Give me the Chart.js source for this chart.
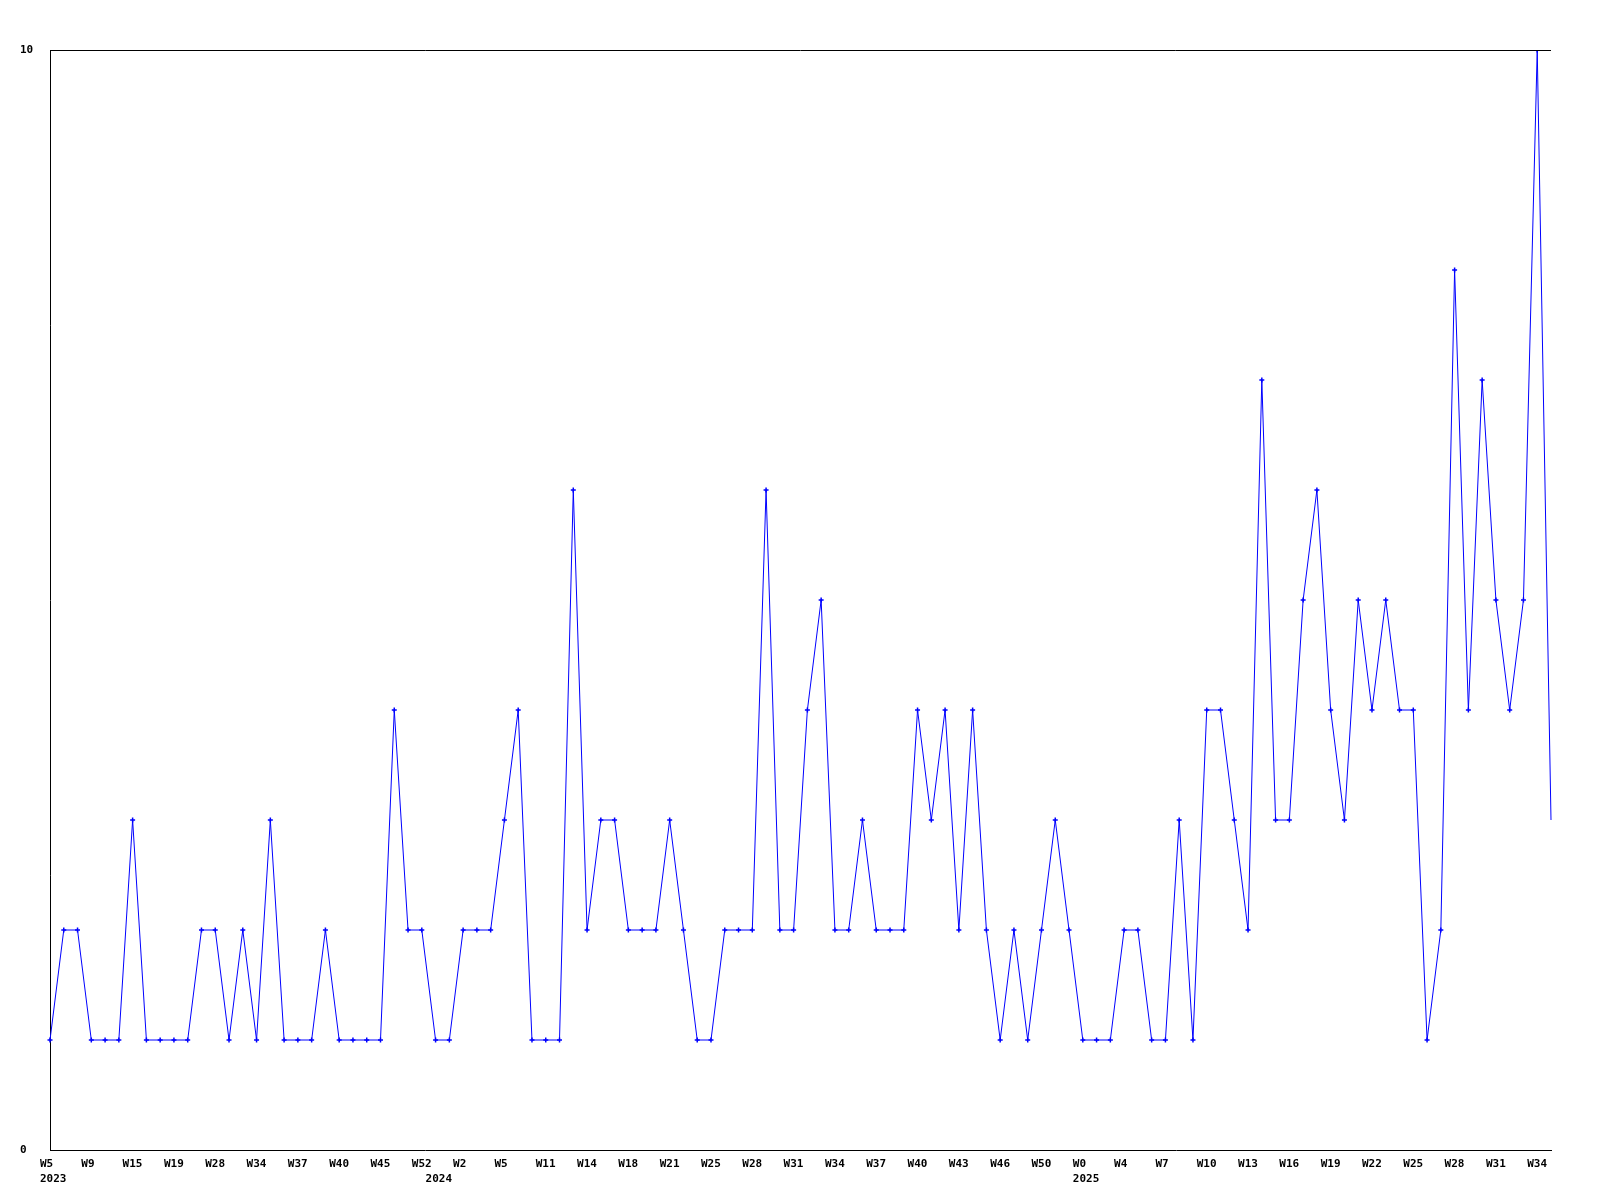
<!DOCTYPE html>
<html>
<head>
<meta charset="utf-8">
<script src="https://cdn.jsdelivr.net/npm/chart.js@4/dist/chart.umd.min.js"></script>
<style>
  html, body { margin: 0; background: #fff; }
  #wrap { width: 1600px; height: 1200px; }
</style>
</head>
<body>
<div id="wrap"><canvas id="week-chart" width="1600" height="1200"></canvas></div>
<script>
// weekly counts, one per point (110 points)
const counts = [
  1, 2, 2, 1, 1, 1, 3, 1, 1, 1,
  1, 2, 2, 1, 2, 1, 3, 1, 1, 1,
  2, 1, 1, 1, 1, 4, 2, 2, 1, 1,
  2, 2, 2, 3, 4, 1, 1, 1, 6, 2,
  3, 3, 2, 2, 2, 3, 2, 1, 1, 2,
  2, 2, 6, 2, 2, 4, 5, 2, 2, 3,
  2, 2, 2, 4, 3, 4, 2, 4, 2, 1,
  2, 1, 2, 3, 2, 1, 1, 1, 2, 2,
  1, 1, 3, 1, 4, 4, 3, 2, 7, 3,
  3, 5, 6, 4, 3, 5, 4, 5, 4, 4,
  1, 2, 8, 4, 7, 5, 4, 5, 10, 3,
];
// week labels shown on every third point
const weekTicks = [
  'W5', 'W9', 'W15', 'W19', 'W28', 'W34', 'W37', 'W40', 'W45', 'W52',
  'W2', 'W5', 'W11', 'W14', 'W18', 'W21', 'W25', 'W28', 'W31', 'W34',
  'W37', 'W40', 'W43', 'W46', 'W50',
  'W0', 'W4', 'W7', 'W10', 'W13', 'W16', 'W19', 'W22', 'W25', 'W28', 'W31', 'W34',
];
const tickEvery = 3;
// year captions and the point where each year starts
const years = ['2023', '2024', '2025'];
const yearStart = [0, 28, 75];
const yTicks = [0, 10];

const labels = counts.map((_, i) => {
  const week = i % tickEvery === 0 ? (weekTicks[i / tickEvery] || '') : '';
  const y = yearStart.indexOf(i);
  return [week, y >= 0 ? years[y] : ''];
});

const tickFont = { family: '"DejaVu Sans Mono", monospace', size: 11, weight: 'bold', lineHeight: 1.4 };

// box line along the top of the plot
const topBorder = {
  id: 'topBorder',
  afterDraw(chart) {
    const { ctx, chartArea: a } = chart;
    ctx.save();
    ctx.strokeStyle = '#000';
    ctx.lineWidth = 1;
    ctx.beginPath();
    ctx.moveTo(a.left, Math.round(a.top) + 0.5);
    ctx.lineTo(a.right, Math.round(a.top) + 0.5);
    ctx.stroke();
    ctx.restore();
  },
};

new Chart(document.getElementById('week-chart'), {
  type: 'line',
  data: {
    labels,
    datasets: [{
      data: counts,
      borderColor: '#0000ff',
      backgroundColor: '#0000ff',
      borderWidth: 1,
      tension: 0,
      pointStyle: 'cross',
      // the last point sits on the right edge and has no marker
      pointRadius: c => (c.dataIndex === counts.length - 1 ? 0 : 2.5),
      pointBorderWidth: 1.5,
      pointBorderColor: '#0000ff',
    }],
  },
  options: {
    responsive: false,
    animation: false,
    layout: { padding: { left: 20, top: 50, right: 49, bottom: 0 } },
    plugins: { legend: { display: false }, tooltip: { enabled: false } },
    scales: {
      x: {
        offset: false,
        grid: { display: false, drawTicks: false },
        border: { display: true, color: '#000', width: 1 },
        ticks: {
          autoSkip: false, maxRotation: 0, minRotation: 0,
          align: 'start', labelOffset: -10, padding: 6,
          color: '#000', font: tickFont,
        },
        afterFit: s => { s.height = 50; },
      },
      y: {
        min: 0, max: 10,
        grid: { display: false, drawTicks: false },
        border: { display: true, color: '#000', width: 1 },
        afterBuildTicks: s => { s.ticks = yTicks.map(v => ({ value: v })); },
        ticks: { crossAlign: 'far', padding: 0, color: '#000', font: tickFont },
        afterFit: s => { s.width = 30; },
      },
    },
  },
  plugins: [topBorder],
});
</script>
</body>
</html>
